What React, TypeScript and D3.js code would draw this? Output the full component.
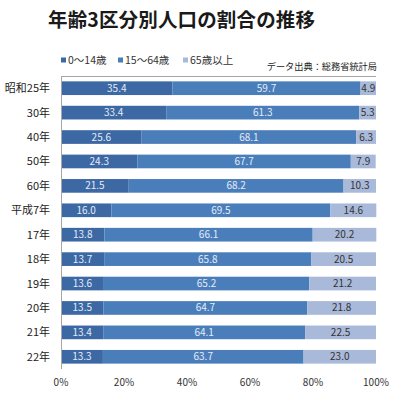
import React from "react";
import * as d3 from "d3";

const categories = ["昭和25年", "30年", "40年", "50年", "60年", "平成7年", "17年", "18年", "19年", "20年", "21年", "22年"];
const age0to14 = [35.4, 33.4, 25.6, 24.3, 21.5, 16.0, 13.8, 13.7, 13.6, 13.5, 13.4, 13.3];
const age15to64 = [59.7, 61.3, 68.1, 67.7, 68.2, 69.5, 66.1, 65.8, 65.2, 64.7, 64.1, 63.7];
const age65plus = [4.9, 5.3, 6.3, 7.9, 10.3, 14.6, 20.2, 20.5, 21.2, 21.8, 22.5, 23.0];
const seriesNames = ["0～14歳", "15～64歳", "65歳以上"];
const seriesColors = ["#3c68a4", "#4a7ebb", "#a9b9d9"];
const labelColors = ["#e4ecf6", "#e4ecf6", "#333333"];
const xTicks = [0, 20, 40, 60, 80, 100];
const title = "年齢3区分別人口の割合の推移";
const source = "データ出典：総務省統計局";

const W = 394, H = 400;
const FONT = "'Noto Sans CJK JP', 'Noto Sans', sans-serif";

export default function App() {
  const x = d3.scaleLinear().domain([0, 100]).range([61, 376]);
  const y = d3.scaleBand().domain(categories).range([76, 369]).paddingInner(0.44).paddingOuter(0.22);
  const seriesData = [age0to14, age15to64, age65plus];
  const rows = categories.map((c, i) => ({ c, vals: seriesData.map(s => s[i]) }));
  const stack = d3.stack<any>().keys(["0", "1", "2"])(rows.map(r => ({ "0": r.vals[0], "1": r.vals[1], "2": r.vals[2], c: r.c })));

  const legendX = [61, 118, 183];

  return (
    <svg width={W} height={H} style={{ position: "absolute", left: 0, top: 0, background: "#fff" }} fontFamily={FONT}>
      <rect width={W} height={H} fill="#fff" />
      <text x={48} y={27} fontSize={19.5} fontWeight={700} fill="#1a1a1a" textLength={267} lengthAdjust="spacing">{title}</text>
      {seriesNames.map((n, i) => (
        <g key={n}>
          <rect x={legendX[i]} y={57.5} width={5} height={5} fill={seriesColors[i]} />
          <text x={legendX[i] + 7} y={64} fontSize={10.5} fill="#333">{n}</text>
        </g>
      ))}
      <text x={377} y={70} fontSize={9.2} fill="#222" textAnchor="end">{source}</text>
      <line x1={61} x2={376} y1={76.5} y2={76.5} stroke="#a6a6a6" strokeWidth={1} />
      {stack.map((layer, si) => (
        <g key={si}>
          {layer.map((d, i) => {
            const x0 = x(d[0]), x1 = x(d[1]);
            const yy = y(categories[i])!;
            return (
              <g key={i}>
                <rect x={x0} y={yy} width={x1 - x0} height={y.bandwidth()} fill={seriesColors[si]} />
                <text x={(x0 + x1) / 2} y={yy + y.bandwidth() / 2 + 3.5} fontSize={10} fill={labelColors[si]} textAnchor="middle">
                  {seriesData[si][i].toFixed(1)}
                </text>
              </g>
            );
          })}
        </g>
      ))}
      <line x1={61.5} x2={61.5} y1={76} y2={369} stroke="#a6a6a6" strokeWidth={1} />
      {categories.map(c => (
        <text key={c} x={50} y={y(c)! + y.bandwidth() / 2 + 4} fontSize={11} fill="#222" textAnchor="end">{c}</text>
      ))}
      {xTicks.map(t => (
        <text key={t} x={x(t)} y={386} fontSize={10} fill="#333" textAnchor="middle">{t}%</text>
      ))}
    </svg>
  );
}
